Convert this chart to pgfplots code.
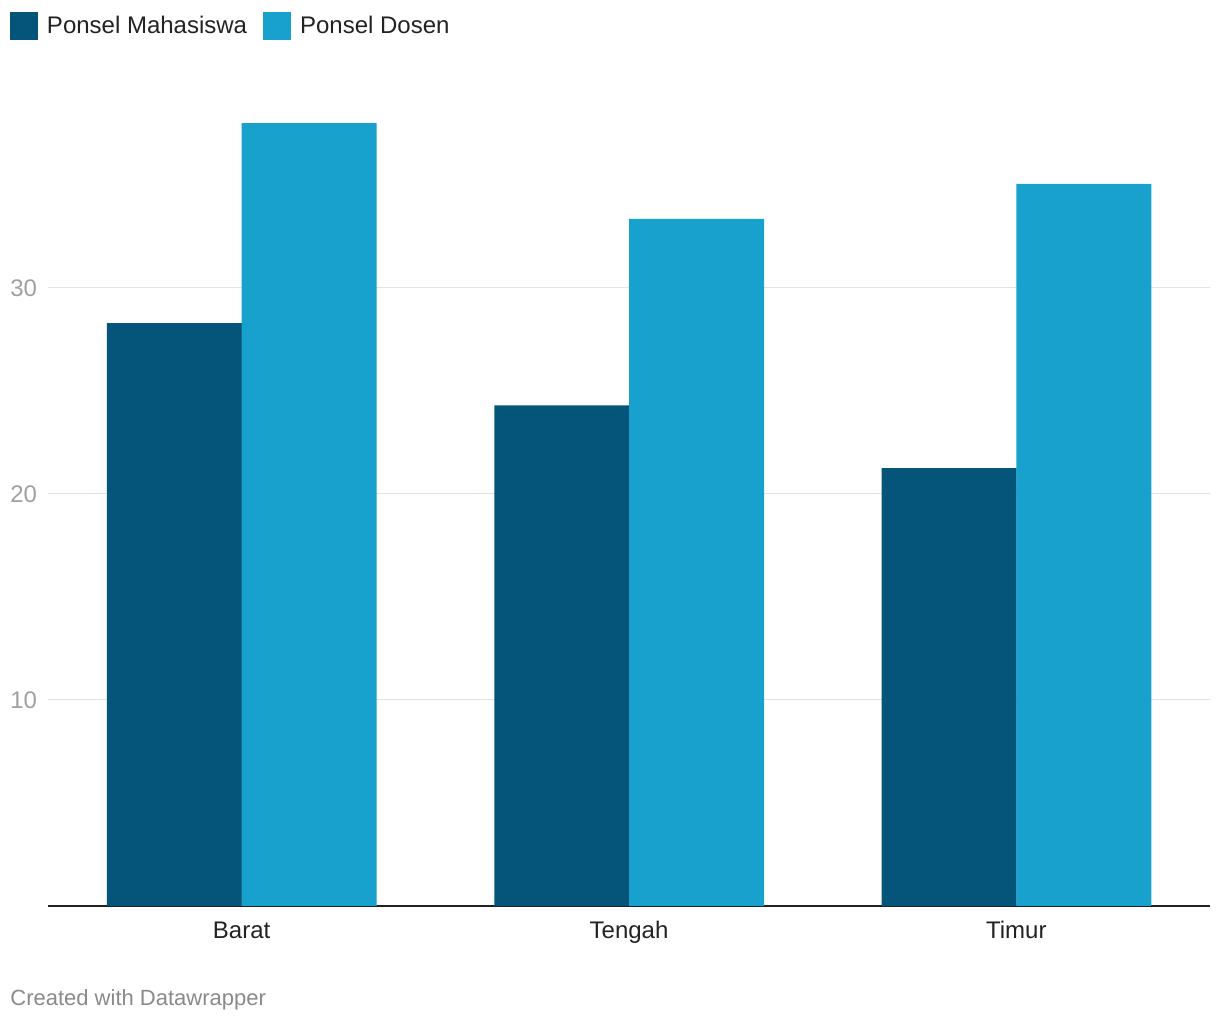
\documentclass[border=0pt]{standalone}
\usepackage{fontspec}
\setmainfont{Liberation Sans}
\usepackage{pgfplots}
\pgfplotsset{compat=1.18}

\definecolor{mhs}{HTML}{05547A}
\definecolor{dsn}{HTML}{18A1CD}
\definecolor{txt}{HTML}{222222}
\definecolor{ticktxt}{HTML}{A0A0A0}
\definecolor{credit}{HTML}{8A8A8A}
\definecolor{gridc}{HTML}{E3E3E3}

\begin{document}
\begin{tikzpicture}
\begin{axis}[
    scale only axis,
    width=581pt, height=412pt,
    ybar, ybar=0pt,
    bar width=67.5pt,
    xmin=-0.5, xmax=2.5,
    ymin=0, ymax=40,
    xtick=data,
    xticklabels={Barat, Tengah, Timur},
    ytick={10,20,30},
    ymajorgrids,
    grid style={gridc, line width=0.5pt},
    axis x line*=bottom,
    axis y line*=left,
    y axis line style={draw=none},
    x axis line style={-, line width=1pt, color=txt},
    major tick length=0pt,
    tick label style={font=\fontsize{12}{14}\selectfont},
    xticklabel style={anchor=base, yshift=-16.5pt, text=txt},
    yticklabel style={anchor=west, inner sep=0pt, xshift=-19pt, text=ticktxt},
    /pgf/number format/assume math mode=true,
    legend columns=-1,
    legend style={
        at={(-0.0327,1.085)}, anchor=north west,
        draw=none, fill=none, inner sep=0pt, outer sep=0pt,
        font=\fontsize{12}{14}\selectfont, text=txt,
        nodes={inner sep=0pt},
        /tikz/every odd column/.style={column sep=4.5pt},
        /tikz/every even column/.style={column sep=8pt},
    },
    legend image code/.code={\fill[#1] (0pt,-7pt) rectangle (14pt,7pt);},
]
\addplot[fill=mhs, draw=none, bar shift=-33.6pt] coordinates {(0,28.3) (1,24.3) (2,21.25)};
\addlegendentry{Ponsel Mahasiswa}
\addplot[fill=dsn, draw=none, bar shift=33.75pt] coordinates {(0,38.0) (1,33.35) (2,35.05)};
\addlegendentry{Ponsel Dosen}
\end{axis}
\node[anchor=base west, inner sep=0pt, text=credit, font=\fontsize{11}{13}\selectfont] at (-19pt,-50pt) {Created with Datawrapper};
\pgfresetboundingbox
\useasboundingbox (-24pt,-57pt) rectangle (586pt,453pt);
\end{tikzpicture}
\end{document}
